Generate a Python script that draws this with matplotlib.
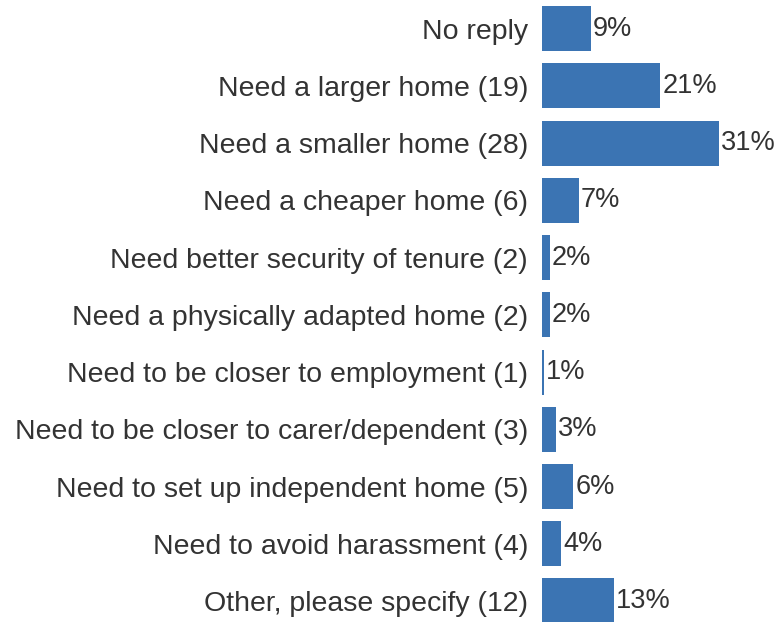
import matplotlib

matplotlib.use("Agg")
import matplotlib.pyplot as plt

categories = [
    "No reply",
    "Need a larger home (19)",
    "Need a smaller home (28)",
    "Need a cheaper home (6)",
    "Need better security of tenure (2)",
    "Need a physically adapted home (2)",
    "Need to be closer to employment (1)",
    "Need to be closer to carer/dependent (3)",
    "Need to set up independent home (5)",
    "Need to avoid harassment (4)",
    "Other, please specify (12)",
]
percents = [9, 21, 31, 7, 2, 2, 1, 3, 6, 4, 13]

plt.rcParams["font.family"] = ["Liberation Sans", "DejaVu Sans"]
bar_color = "#3b74b3"
text_color = "#333333"
fs = 20.5

fig = plt.figure(figsize=(7.76, 6.22), dpi=100)
ax = fig.add_axes([542 / 776, 1 - 629.6 / 622, (771 - 542) / 776, 629.6 / 622])

y = list(range(len(categories)))
ax.barh(y, percents, height=0.786, color=bar_color)
for i, v in enumerate(percents):
    ax.text(v + 0.35, i, f"{v}%", va="center", ha="left", fontsize=19.5, color=text_color)

ax.set_xlim(0.65, 40)
ax.set_ylim(len(categories) - 0.5, -0.5)
ax.set_yticks(y)
ax.set_yticklabels(categories, fontsize=fs, color=text_color)
ax.tick_params(axis="y", length=0, pad=10)
ax.set_xticks([])
for s in ax.spines.values():
    s.set_visible(False)

fig.savefig("out.png", dpi=100)
